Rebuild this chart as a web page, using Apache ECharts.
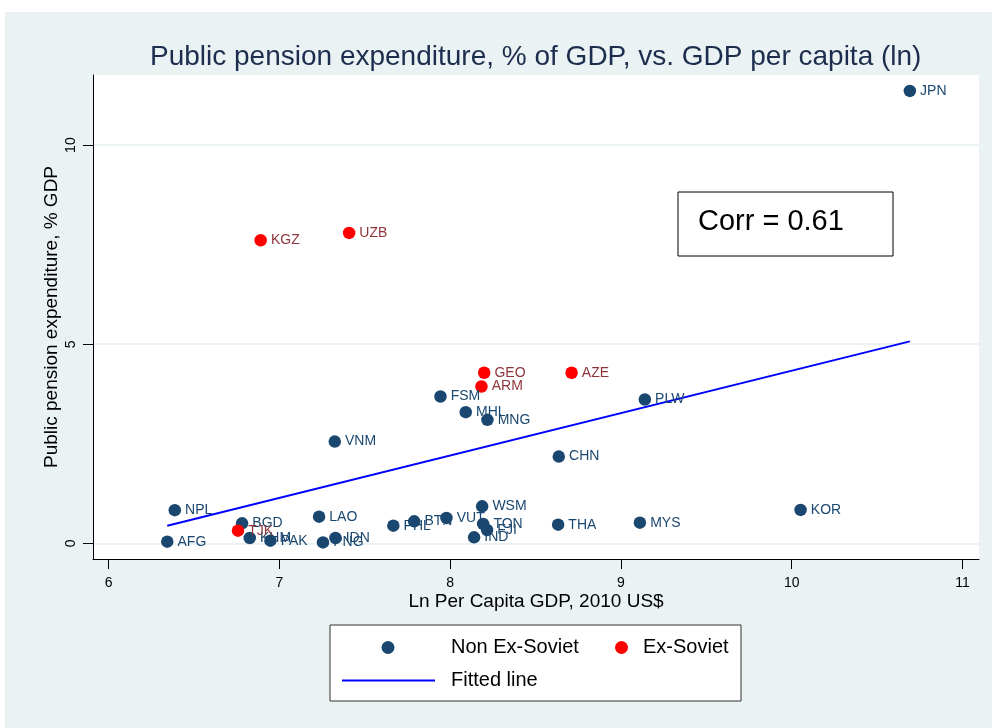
<!DOCTYPE html>
<html>
<head>
<meta charset="utf-8">
<script src="https://cdn.jsdelivr.net/npm/echarts@6/dist/echarts.min.js"></script>
<style>
html, body { margin: 0; padding: 0; background: #fff; }
#chart { position: absolute; left: 5px; top: 12px; width: 987px; height: 716px; }
</style>
</head>
<body>
<div id="chart"></div>
<script>
// Non ex-Soviet economies
var nonCodes = ['JPN', 'NPL', 'AFG', 'BGD', 'KHM', 'PAK', 'PNG', 'IDN', 'LAO', 'PHL', 'BTN', 'VUT', 'WSM', 'TON', 'FJI', 'IND', 'THA', 'FSM', 'MHL', 'MNG', 'VNM', 'CHN', 'PLW', 'MYS', 'KOR'];
var nonX = [10.692, 6.387, 6.343, 6.781, 6.826, 6.947, 7.255, 7.328, 7.232, 7.667, 7.789, 7.978, 8.187, 8.193, 8.216, 8.140, 8.632, 7.943, 8.091, 8.218, 7.324, 8.636, 9.140, 9.111, 10.052];
var nonY = [11.36, 0.835, 0.043, 0.503, 0.136, 0.068, 0.025, 0.136, 0.671, 0.445, 0.553, 0.639, 0.930, 0.488, 0.337, 0.151, 0.470, 3.689, 3.294, 3.103, 2.557, 2.180, 3.613, 0.520, 0.840];

// Ex-Soviet economies
var sovCodes = ['KGZ', 'UZB', 'TJK', 'GEO', 'AZE', 'ARM'];
var sovX = [6.890, 7.408, 6.757, 8.199, 8.711, 8.183];
var sovY = [7.611, 7.795, 0.319, 4.285, 4.285, 3.940];

// fitted line end points
var fitX = [6.343, 10.692];
var fitY = [0.445, 5.072];

var xTicks = [6, 7, 8, 9, 10, 11];
var yTicks = [0, 5, 10];
var corrText = 'Corr = 0.61';

var font = "'Liberation Sans', Arial, sans-serif";

function points(codes, xs, ys) {
    return codes.map(function (c, i) {
        return { name: c, value: [xs[i], ys[i]] };
    });
}

var myChart = echarts.init(document.getElementById('chart'));
var option = {
    backgroundColor: '#eaf2f3',
    animation: false,
    textStyle: { fontFamily: font },
    title: {
        text: 'Public pension expenditure, % of GDP, vs. GDP per capita (ln)',
        left: 145,
        top: 31,
        padding: 0,
        textStyle: { fontSize: 28, fontWeight: 'normal', color: '#1c2d4d', fontFamily: font }
    },
    grid: {
        left: 88, top: 63, right: 13, bottom: 169,
        show: true, backgroundColor: '#fff', borderWidth: 0
    },
    xAxis: {
        type: 'value',
        min: 5.908,
        max: 11.097,
        name: 'Ln Per Capita GDP, 2010 US$',
        nameLocation: 'middle',
        nameGap: 33,
        nameMoveOverlap: false,
        nameTextStyle: { fontSize: 19, color: '#000', fontFamily: font },
        axisLine: { show: true, onZero: false, lineStyle: { color: '#000', width: 1 } },
        axisTick: { show: true, length: 10, customValues: xTicks, lineStyle: { color: '#000' } },
        axisLabel: { customValues: xTicks, fontSize: 14, color: '#000', margin: 17 },
        splitLine: { show: false }
    },
    yAxis: {
        type: 'value',
        min: -0.392,
        max: 11.76,
        name: 'Public pension expenditure, % GDP',
        nameLocation: 'middle',
        nameGap: 32,
        nameMoveOverlap: false,
        nameTextStyle: { fontSize: 19, color: '#000', fontFamily: font },
        axisLine: { show: true, onZero: false, lineStyle: { color: '#000', width: 1 } },
        axisTick: { show: true, length: 10, customValues: yTicks, lineStyle: { color: '#000' } },
        axisLabel: { customValues: yTicks, rotate: 90, fontSize: 14, color: '#000', margin: 15 },
        splitLine: { show: false }
    },
    legend: [
        {
            data: ['Non Ex-Soviet'], left: 376.5, top: 625.5, padding: 0,
            itemWidth: 13, itemHeight: 13, selectedMode: false,
            textStyle: { fontSize: 20, color: '#000', padding: [0, 0, 0, 51.5] }
        },
        {
            data: ['Ex-Soviet'], left: 610, top: 625.5, padding: 0,
            itemWidth: 13, itemHeight: 13, selectedMode: false,
            textStyle: { fontSize: 20, color: '#000', padding: [0, 0, 0, 10] }
        },
        {
            data: [{ name: 'Fitted line', icon: 'path://M0,0L93,0L93,2L0,2Z' }],
            left: 337, top: 658.5, padding: 0,
            itemWidth: 93, itemHeight: 13, selectedMode: false,
            textStyle: { fontSize: 20, color: '#000', padding: [0, 0, 0, 11] }
        }
    ],
    graphic: [
        {
            type: 'rect', z: 1,
            shape: { x: 325, y: 613, width: 411, height: 76 },
            style: { fill: '#fff', stroke: '#333', lineWidth: 1 }
        },
        {
            type: 'rect', z: 10,
            shape: { x: 673, y: 180, width: 215, height: 64 },
            style: { fill: '#fff', stroke: '#000', lineWidth: 1 }
        },
        {
            type: 'text', z: 11, left: 693, top: 195,
            style: { text: corrText, fontSize: 29, fill: '#000', fontFamily: font }
        }
    ],
    series: [
        {
            name: 'Fitted line',
            type: 'line',
            z: 1,
            symbol: 'none',
            data: fitX.map(function (v, i) { return [v, fitY[i]]; }),
            lineStyle: { color: '#0000ff', width: 2 },
            itemStyle: { color: '#0000ff' },
            markLine: {
                z: 0,
                silent: true,
                symbol: 'none',
                label: { show: false },
                lineStyle: { color: '#eaf2f3', width: 2, type: 'solid' },
                data: yTicks.map(function (v) { return { yAxis: v }; })
            }
        },
        {
            name: 'Non Ex-Soviet',
            type: 'scatter',
            symbolSize: 12.5,
            data: points(nonCodes, nonX, nonY),
            itemStyle: { color: '#1a476f', opacity: 1 },
            label: { show: true, position: 'right', distance: 4, formatter: '{b}', fontSize: 14, color: '#1a476f' }
        },
        {
            name: 'Ex-Soviet',
            type: 'scatter',
            symbolSize: 12.5,
            data: points(sovCodes, sovX, sovY),
            itemStyle: { color: '#ff0000', opacity: 1 },
            label: { show: true, position: 'right', distance: 4, formatter: '{b}', fontSize: 14, color: '#90353b' }
        }
    ]
};
myChart.setOption(option);
</script>
</body>
</html>
